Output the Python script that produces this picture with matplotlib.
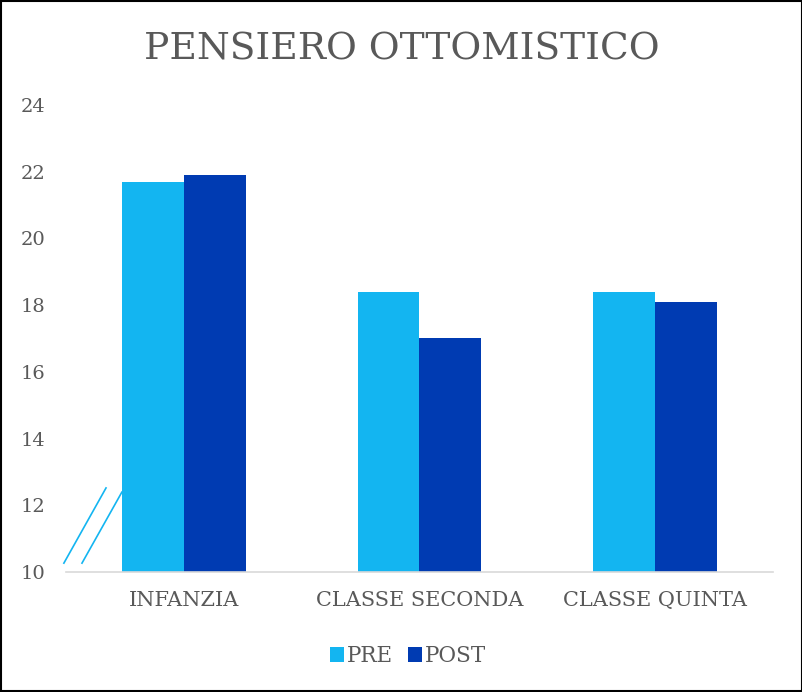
import numpy as np
import matplotlib.pyplot as plt
from matplotlib.lines import Line2D

categories = ['INFANZIA', 'CLASSE SECONDA', 'CLASSE QUINTA']
pre = [21.7, 18.4, 18.4]
post = [21.9, 17.0, 18.1]
yticks = [10, 12, 14, 16, 18, 20, 22, 24]

c_pre = '#13B5F1'
c_post = '#003BB2'
txt = '#595959'

plt.rcParams['font.family'] = ['DejaVu Serif']

fig = plt.figure(figsize=(8.03, 6.92), dpi=100)
ax = fig.add_axes([0.0822, 0.1734, 0.8804, 0.6749])

x = np.arange(len(categories))
w = 0.263
ax.bar(x - w / 2, pre, w, color=c_pre, label='PRE')
ax.bar(x + w / 2, post, w, color=c_post, label='POST')

ax.set_xlim(-0.5, 2.5)
ax.set_ylim(10, 24)
ax.set_yticks(yticks)
ax.set_xticks(x)
ax.set_xticklabels(categories, fontsize=15)
ax.tick_params(axis='both', length=0, colors=txt)
ax.tick_params(axis='y', pad=15, labelsize=14)
ax.tick_params(axis='x', pad=14)
for s in ['top', 'right', 'left']:
    ax.spines[s].set_visible(False)
ax.spines['bottom'].set_color('#D9D9D9')
ax.spines['bottom'].set_linewidth(1.2)

# axis break marks
for x0, x1, y1 in [(-0.003, 0.0566, 0.18), (0.0226, 0.079, 0.171)]:
    ax.add_line(Line2D([x0, x1], [0.019, y1], transform=ax.transAxes,
                       color=c_pre, lw=1.2, clip_on=False))

fig.text(0.5, 0.928, 'PENSIERO OTTOMISTICO', ha='center', va='center',
         fontsize=27, color=txt)

ax.legend(loc='center', bbox_to_anchor=(0.484, -0.18), ncol=2, frameon=False,
          fontsize=15.5, labelcolor=txt, handlelength=0.65, handleheight=0.65,
          handletextpad=0.15, columnspacing=0.7)

fig.patches.append(plt.Rectangle((0.001, 0.001), 0.998, 0.998,
                                 transform=fig.transFigure, fill=False,
                                 edgecolor='black', lw=1.5))

fig.savefig('out.png', dpi=100)
